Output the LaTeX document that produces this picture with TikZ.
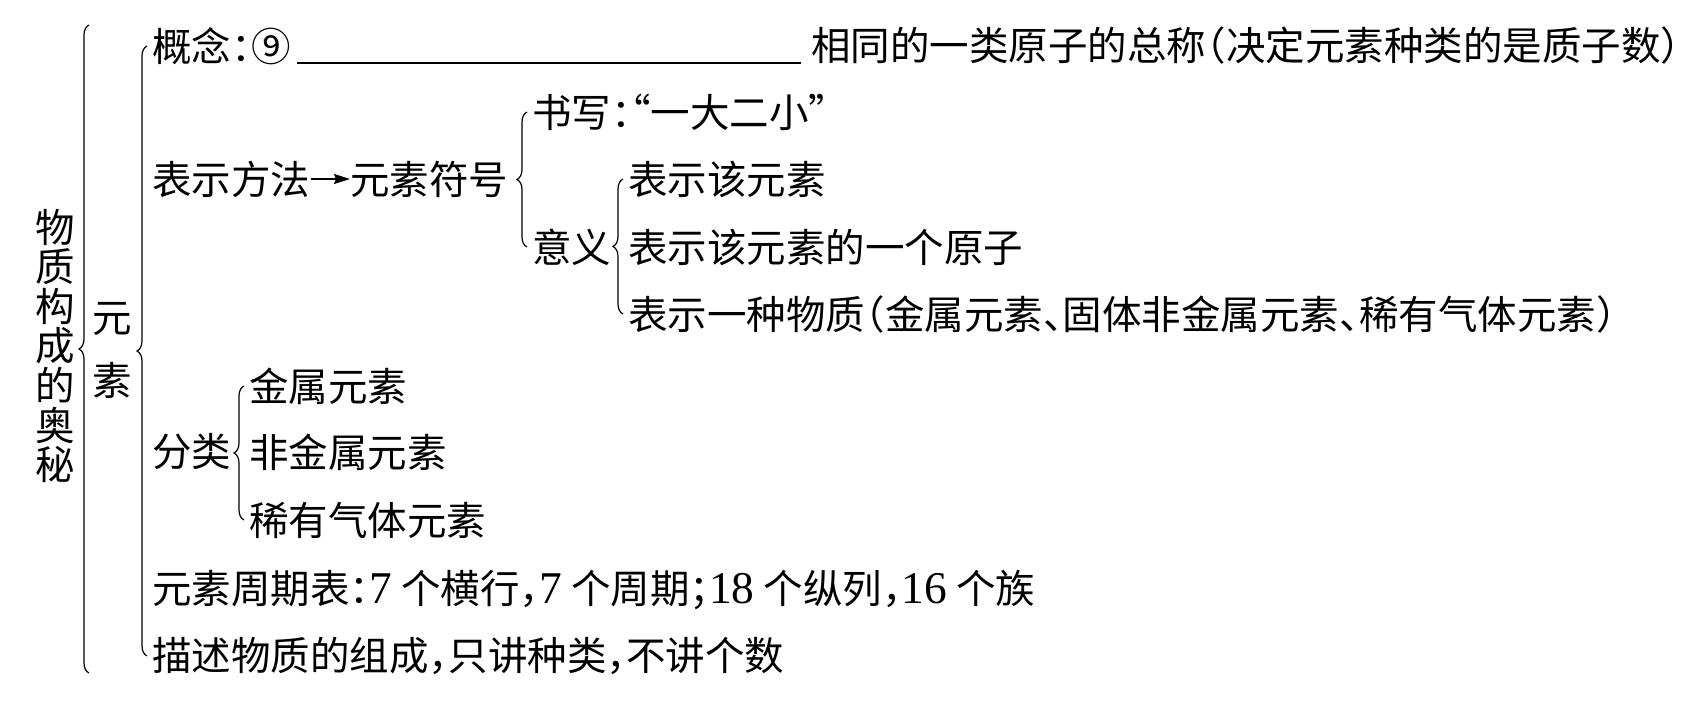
\documentclass[tikz,border=0pt]{standalone}
\usepackage{fontspec}
\setmainfont{Noto Sans CJK SC}[RawFeature={+halt}]
\newfontfamily\numfont{Liberation Serif}[Scale=1.15]
\usetikzlibrary{decorations.pathreplacing,arrows.meta}

\begin{document}
\begin{tikzpicture}[x=0.5pt, y=-0.5pt,
    txt/.style={inner sep=0pt, anchor=west, font=\fontsize{19.75}{19.8}\selectfont},
    brc/.style={decorate, decoration={brace, amplitude=5pt}, line width=0.6pt}]
                    \useasboundingbox (0,0) rectangle (1707,704);
                    % Nodes
                    \node[txt, anchor=center, align=center] (wuzhi) at (55,346) {物\\质\\构\\成\\的\\奥\\秘};
                    \node[txt, anchor=center, align=center, font=\fontsize{19.75}{31.5}\selectfont] (yuansu) at (112,350) {元\\素};
                    \node[txt] (gainian) at (152,46) {概念：⑨};
                    \node[txt] (zongcheng) at (811,46) {相同的一类原子的总称（决定元素种类的是质子数）};
                    \node[txt] (fangfa) at (152,179) {表示方法};
                    \node[txt] (fuhao) at (350,179) {元素符号};
                    \node[txt] (shuxie) at (532,112) {书写：“一大二小”};
                    \node[txt] (yiyi) at (532,247) {意义};
                    \node[txt] (yi1) at (628,179) {表示该元素};
                    \node[txt] (yi2) at (628,247) {表示该元素的一个原子};
                    \node[txt] (yi3) at (628,314) {表示一种物质（金属元素、固体非金属元素、稀有气体元素）};
                    \node[txt] (fenlei) at (152,452) {分类};
                    \node[txt] (jinshu) at (249,386) {金属元素};
                    \node[txt] (feijinshu) at (249,452) {非金属元素};
                    \node[txt] (xiyou) at (249,520) {稀有气体元素};
                    \node[txt] (zhouqi) at (152,590) {元素周期表：{\numfont 7} 个横行，{\numfont 7} 个周期；{\numfont 18} 个纵列，{\numfont 16} 个族};
                    \node[txt] (miaoshu) at (152,656) {描述物质的组成，只讲种类，不讲个数};
                    \coordinate (top) at (89,25);
                    \coordinate (bot) at (89,673);
                    % Edges
                    \draw[brc] (bot) -- (top);
                    \draw[brc] ([shift={(-5,0)}]miaoshu.west) -- ([shift={(-5,0)}]gainian.west);
                    \draw[brc] ([shift={(-5,0)}]yiyi.west) -- ([shift={(-5,0)}]shuxie.west);
                    \draw[brc] ([shift={(-5,0)}]yi3.west) -- ([shift={(-5,0)}]yi1.west);
                    \draw[brc] ([shift={(-5,0)}]xiyou.west) -- ([shift={(-5,0)}]jinshu.west);
                    \draw[-{Stealth[length=8pt, width=5pt, inset=1pt]}, line width=0.6pt] (fangfa) -- (fuhao);
                    \draw[line width=0.6pt] ([shift={(6,17)}]gainian.east) -- ([shift={(-10,17)}]zongcheng.west);
                \end{tikzpicture}
\end{document}
